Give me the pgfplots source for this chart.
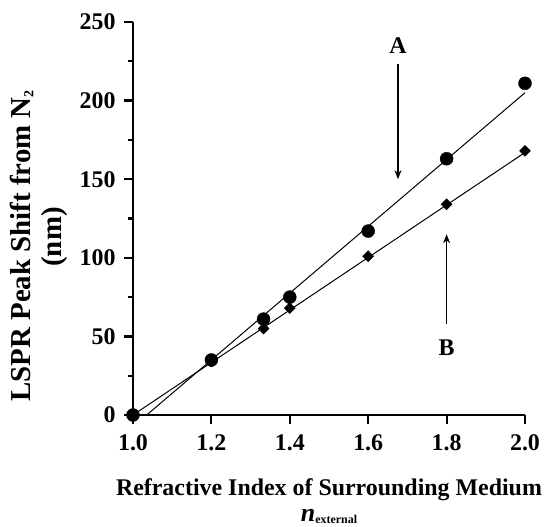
\documentclass[border=0pt]{standalone}
\usepackage{fontspec}
\setmainfont{Liberation Serif}
\usepackage{pgfplots}
\pgfplotsset{compat=1.18}
\usetikzlibrary{arrows.meta}
\begin{document}
\begin{tikzpicture}
\begin{axis}[
  scale only axis, width=392bp, height=393bp,
  xmin=1.0, xmax=2.0, ymin=0, ymax=250,
  axis lines=left, axis line style={-, line width=2.6bp},
  clip=false,
  xtick={1.0,1.2,1.4,1.6,1.8,2.0},
  xticklabels={1.0,1.2,1.4,1.6,1.8,2.0},
  ytick={0,50,100,150,200,250},
  yticklabels={0,50,100,150,200,250},
  minor ytick={25,75,125,175,225},
  tick align=outside,
  major tick length=9bp, minor tick length=5bp,
  every tick/.style={line width=2.2bp, black},
  ticklabel style={font=\bfseries\fontsize{24}{26}\selectfont},
  xticklabel style={yshift=-7bp},
  yticklabel style={xshift=-5bp},
  xlabel={Refractive Index of Surrounding Medium},
  xlabel style={font=\bfseries\fontsize{24}{26}\selectfont, at={(rel axis cs:0.5,-0.19)}, anchor=center},
  ylabel={LSPR Peak Shift from N\raisebox{-3bp}{\fontsize{14}{14}\selectfont 2}},
  ylabel style={font=\bfseries\fontsize{29}{32}\selectfont, at={(rel axis cs:-0.284,0.43)}, anchor=center, rotate=0},
]
% Series A (circles)
\addplot[only marks, mark=*, mark size=6.5bp, black] coordinates {
 (1.0,0) (1.2,35) (1.333,61) (1.4,75) (1.6,117) (1.8,163) (2.0,211)};
% Series B (diamonds)
\addplot[only marks, mark=diamond*, mark size=5.5bp, mark options={xscale=1.33}, black] coordinates {
 (1.0,0) (1.2,34) (1.333,55) (1.4,68) (1.6,101) (1.8,134) (2.0,168)};
% fit lines
\addplot[black, line width=1bp] coordinates {(1.035,0) (2.0,205)};
\addplot[black, line width=1bp] coordinates {(1.0,0) (2.0,167)};
% arrows and labels
\draw[line width=1.3bp, -{Stealth[length=9bp,width=7bp]}] (axis cs:1.676,223) -- (axis cs:1.676,150);
\node[font=\bfseries\fontsize{24}{24}\selectfont] at (axis cs:1.676,235) {A};
\draw[line width=1.3bp, -{Stealth[length=9bp,width=7bp]}] (axis cs:1.80,58) -- (axis cs:1.80,115);
\node[font=\bfseries\fontsize{24}{24}\selectfont] at (axis cs:1.80,43) {B};
\node[rotate=90, anchor=center, font=\bfseries\fontsize{29}{32}\selectfont] at (rel axis cs:-0.199,0.453) {(nm)};
\node[anchor=center, inner sep=0pt] at (rel axis cs:0.5,-0.257) {{\fontsize{26}{26}\selectfont\bfseries\itshape n}{\fontsize{12}{12}\selectfont\bfseries\raisebox{-2bp}{external}}};
\coordinate (O) at (rel axis cs:0,0);
\end{axis}
\pgfresetboundingbox
\path ([shift={(-133bp,-112bp)}]O) rectangle ++(548bp,527bp);
\end{tikzpicture}
\end{document}
